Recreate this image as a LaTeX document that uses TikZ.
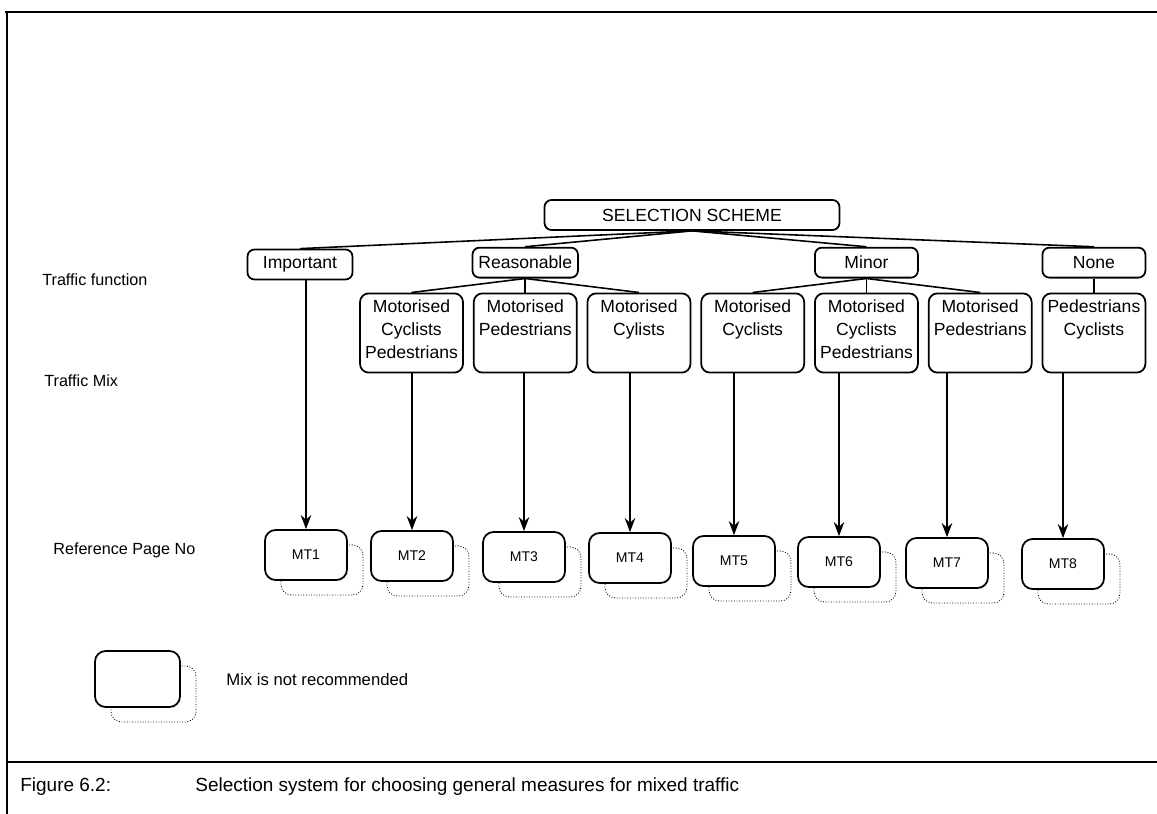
\documentclass[tikz,border=0pt]{standalone}
\usepackage{fontspec}
\setmainfont{Liberation Sans}
\usepackage{tikz}
\usetikzlibrary{shapes.geometric,arrows.meta,shadows,positioning}
\newcommand{\mixlines}[1]{\begin{tabular}[t]{@{}c@{}}#1\end{tabular}}
\tikzstyle{scheme} = [rectangle, rounded corners=4pt, minimum width = 5.9cm, minimum height=0.6cm, text centered, draw = black, line width=1pt, fill=white, font=\fontsize{10}{12}\selectfont]
\tikzstyle{trafficfn} = [rectangle, rounded corners=4pt, minimum width = 2.06cm, minimum height=0.6cm, text centered, draw = black, line width=1pt, fill=white, font=\fontsize{10}{12}\selectfont]
\tikzstyle{mix} = [rectangle, rounded corners=5pt, minimum width = 2.06cm, text height=9.1pt, text depth=32pt, inner sep=2pt, draw = black, line width=1pt, fill=white, font=\fontsize{10}{13}\selectfont]
\tikzstyle{refpage} = [rectangle, rounded corners=6pt, minimum width = 1.64cm, minimum height=1cm, draw = black, line width=1pt, fill=white, font=\fontsize{8}{10}\selectfont, drop shadow={fill=none, draw=black, densely dotted, line width=0.5pt, opacity=1, shadow xshift=0.32cm, shadow yshift=-0.3cm}]
\tikzstyle{rowlabel} = [anchor=west, inner sep=0pt, font=\fontsize{9.2}{11}\selectfont]
\tikzstyle{branch} = [line width=0.9pt]
\tikzstyle{arrow} = [line width=0.9pt,->,>={Stealth[length=8pt,width=6pt]}]
\tikzstyle{frame} = [line width=1.2pt]

\begin{document}
\begin{tikzpicture}[x=0.02cm, y=-0.02cm]
\useasboundingbox (0,0) rectangle (1157,814);

% frame and caption
\draw [frame] (5,12) -- (1157,12);
\draw [frame] (7,12) -- (7,814);
\draw [frame] (7,762) -- (1157,762);
\node(figno) [anchor=west, inner sep=0pt, font=\fontsize{10.8}{13}\selectfont] at (20,787) {Figure 6.2:};
\node(caption) [anchor=west, inner sep=0pt, font=\fontsize{10.8}{13}\selectfont] at (195,787) {Selection system for choosing general measures for mixed traffic};

% row labels
\node(fnlabel)  [rowlabel] at (42,280) {Traffic function};
\node(mixlabel) [rowlabel] at (44,381) {Traffic Mix};
\node(pglabel)  [rowlabel] at (53,550) {Reference Page No};

\node(scheme) [scheme] at (692,215) {SELECTION SCHEME};

% traffic mix
\node(MotCycPed)  [mix] at (411.5,333) {\mixlines{Motorised\\Cyclists\\Pedestrians}};
\node(MotPed)     [mix, right = 0.18cm of MotCycPed] {\mixlines{Motorised\\Pedestrians}};
\node(MotCyl)     [mix, right = 0.18cm of MotPed] {\mixlines{Motorised\\Cylists}};
\node(MotCyc)     [mix, right = 0.18cm of MotCyl] {\mixlines{Motorised\\Cyclists}};
\node(MotCycPedB) [mix, right = 0.18cm of MotCyc] {\mixlines{Motorised\\Cyclists\\Pedestrians}};
\node(MotPedB)    [mix, right = 0.18cm of MotCycPedB] {\mixlines{Motorised\\Pedestrians}};
\node(PedCyc)     [mix, right = 0.18cm of MotPedB] {\mixlines{Pedestrians\\Cyclists}};

% traffic function
\node(Important)  [trafficfn, minimum width=2.1cm] at (300,264.5) {Important};
\node(Reasonable) [trafficfn, minimum width=2cm, above = 0.28cm of MotPed] {Reasonable};
\node(Minor)      [trafficfn, above = 0.28cm of MotCycPedB] {Minor};
\node(None)       [trafficfn, above = 0.28cm of PedCyc] {None};

% reference pages
\node(MT1) [refpage] at (306,555) {MT1};
\node(MT2) [refpage] at (412,556) {MT2};
\node(MT3) [refpage] at (524,557) {MT3};
\node(MT4) [refpage] at (630,558) {MT4};
\node(MT5) [refpage] at (734,561) {MT5};
\node(MT6) [refpage] at (839,562) {MT6};
\node(MT7) [refpage] at (947,563) {MT7};
\node(MT8) [refpage] at (1063,564) {MT8};

% legend
\node(legend) [refpage, minimum width=1.7cm, minimum height=1.12cm] at (137.5,679) {};
\node(legendtext) [rowlabel, font=\fontsize{9.5}{11}\selectfont] at (226,680) {Mix is not recommended};

\draw [branch] (scheme.south) -- (Important.north);
\draw [branch] (scheme.south) -- (Reasonable.north);
\draw [branch] (scheme.south) -- (Minor.north);
\draw [branch] (scheme.south) -- (None.north);

\draw [branch] (Reasonable.south) -- (MotCycPed.north);
\draw [branch] (Reasonable.south) -- (MotPed.north);
\draw [branch] (Reasonable.south) -- (MotCyl.north);
\draw [branch] (Minor.south) -- (MotCyc.north);
\draw [branch] (Minor.south) -- (MotCycPedB.north);
\draw [branch] (Minor.south) -- (MotPedB.north);
\draw [branch] (None.south) -- (PedCyc.north);

\draw [arrow] (Important.south -| MT1.north) -- (MT1.north);
\draw [arrow] (MotCycPed.south -| MT2.north) -- (MT2.north);
\draw [arrow] (MotPed.south -| MT3.north) -- (MT3.north);
\draw [arrow] (MotCyl.south -| MT4.north) -- (MT4.north);
\draw [arrow] (MotCyc.south -| MT5.north) -- (MT5.north);
\draw [arrow] (MotCycPedB.south -| MT6.north) -- (MT6.north);
\draw [arrow] (MotPedB.south -| MT7.north) -- (MT7.north);
\draw [arrow] (PedCyc.south -| MT8.north) -- (MT8.north);

\end{tikzpicture}
\end{document}
